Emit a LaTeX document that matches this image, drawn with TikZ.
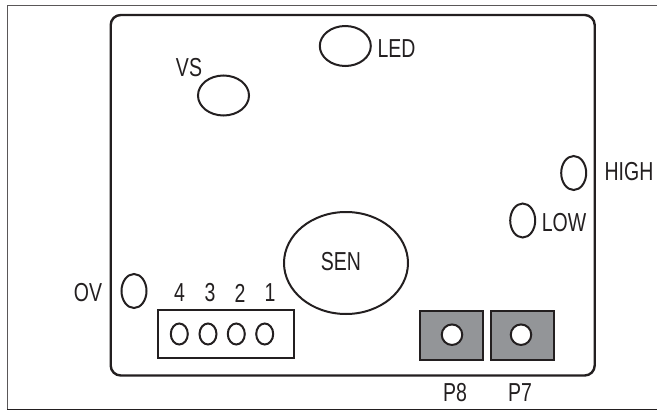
\documentclass[tikz,border=0pt]{standalone}
\usepackage{fontspec}
\setmainfont[FakeStretch=0.75]{Liberation Sans}
\usetikzlibrary{shapes.geometric}
\definecolor{ink}{HTML}{231F20}
\definecolor{padgray}{HTML}{939598}
\tikzset{
  x=1pt,y=-1pt,
  hole/.style={ellipse,draw=ink,line width=2pt,inner sep=0pt,fill=white},
  lab/.style={font=\fontsize{26}{26}\selectfont,text=ink,inner sep=0pt},
  pad/.style={draw=ink,line width=2pt,fill=padgray,inner sep=0pt},
}
\begin{document}
\begin{tikzpicture}
\useasboundingbox (0,0) rectangle (657,410);
\draw[draw=ink!75,line width=1pt] (7,5.5) -- (657,5.5);
\draw[draw=ink!75,line width=1pt] (7,5.5) -- (7,409);
\draw[draw=ink,line width=1pt] (7,409) -- (657,409);
\draw[draw=ink,line width=2.4pt,rounded corners=10pt] (110.7,15) rectangle (594.7,375.5);
\node[hole,minimum width=51pt,minimum height=40pt] (led) at (345.3,46) {};
\node[lab] (tled) at (396.5,48.5) {LED};
\node[hole,minimum width=51pt,minimum height=40pt] (vs) at (223.5,95.5) {};
\node[lab] (tvs) at (189,68) {VS};
\node[hole,minimum width=25pt,minimum height=34pt] (high) at (573.7,173) {};
\node[lab] (thigh) at (629,172) {HIGH};
\node[hole,minimum width=25pt,minimum height=34pt] (low) at (522.7,220.5) {};
\node[lab] (tlow) at (564,223) {LOW};
\node[hole,minimum width=124pt,minimum height=102pt] (sen) at (346,263) {};
\node[lab] (tsen) at (341,262) {SEN};
\node[hole,minimum width=25pt,minimum height=34pt] (ov) at (134,291) {};
\node[lab] (tov) at (88,293) {OV};
\node[draw=ink,line width=2pt,minimum width=136.5pt,minimum height=48.5pt,inner sep=0pt] (conn) at (226,334) {};
\node[hole,minimum width=17pt,minimum height=21pt] (h4) at (179.3,334) {};
\node[hole,minimum width=17pt,minimum height=21pt] (h3) at (208,334) {};
\node[hole,minimum width=17pt,minimum height=21pt] (h2) at (236.3,334) {};
\node[hole,minimum width=17pt,minimum height=21pt] (h1) at (264.7,334) {};
\node[lab] (t4) at (179.5,293) {4};
\node[lab] (t3) at (210,293) {3};
\node[lab] (t2) at (240,293) {2};
\node[lab] (t1) at (270,293) {1};
\node[pad,minimum width=63pt,minimum height=48.5pt] (p8) at (451.5,335.5) {};
\node[pad,minimum width=63pt,minimum height=48.5pt] (p7) at (522,335.5) {};
\node[hole,minimum width=20.5pt,minimum height=20.5pt] (c8) at (452,334.7) {};
\node[hole,minimum width=20.5pt,minimum height=20.5pt] (c7) at (521,334.7) {};
\node[lab] (t8) at (455,393) {P8};
\node[lab] (t7) at (520,393) {P7};
\end{tikzpicture}
\end{document}
